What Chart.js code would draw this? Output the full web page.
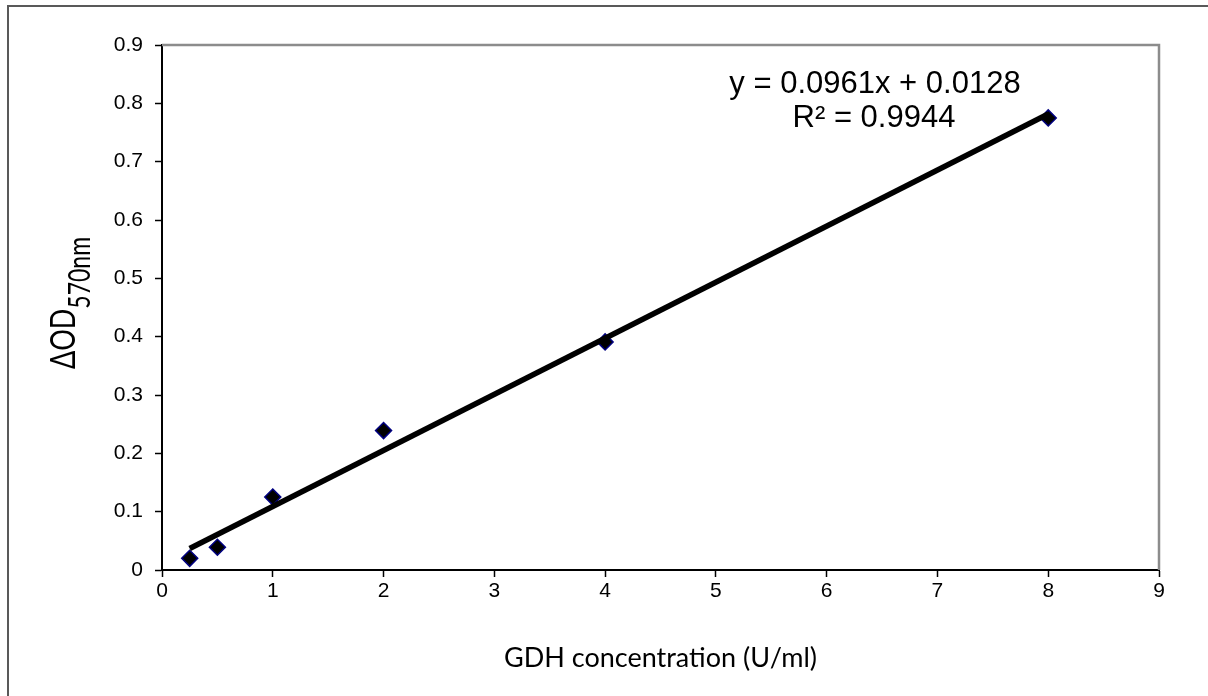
<!DOCTYPE html>
<html>
<head>
<meta charset="utf-8">
<script src="https://cdn.jsdelivr.net/npm/chart.js@4"></script>
<style>
  html, body { margin: 0; padding: 0; background: #fff; }
  #wrap { width: 1208px; height: 696px; position: relative; }
</style>
</head>
<body>
<div id="wrap"><canvas id="chart"></canvas></div>
<script>
// data
const concentration = [0.25, 0.5, 1, 2, 4, 8];
const deltaOD = [0.020, 0.039, 0.125, 0.239, 0.391, 0.775];
const xTicks = [0, 1, 2, 3, 4, 5, 6, 7, 8, 9];
const yTicks = [0, 0.1, 0.2, 0.3, 0.4, 0.5, 0.6, 0.7, 0.8, 0.9];
const slope = 0.0961;
const intercept = 0.0128;
const equationText = 'y = 0.0961x + 0.0128';
const r2Text = 'R\u00b2 = 0.9944';

const trendX = [concentration[0], concentration[concentration.length - 1]];

// frame, top/right plot border, trendline text and y title
const decorPlugin = {
    id: 'decor',
    beforeDraw(chart) {
        const ctx = chart.ctx;
        ctx.save();
        ctx.strokeStyle = '#595959';
        ctx.lineWidth = 2;
        ctx.strokeRect(8, 6, 1400, 900);
        ctx.restore();
    },
    afterDraw(chart) {
        const ctx = chart.ctx;
        const a = chart.chartArea;
        ctx.save();
        ctx.strokeStyle = '#8c8c8c';
        ctx.lineWidth = 2.5;
        ctx.beginPath();
        ctx.moveTo(a.left, a.top);
        ctx.lineTo(a.right, a.top);
        ctx.lineTo(a.right, a.bottom);
        ctx.stroke();

        // equation
        ctx.fillStyle = '#000';
        ctx.font = '31px "Liberation Sans", Arial, sans-serif';
        ctx.textAlign = 'center';
        ctx.textBaseline = 'alphabetic';
        ctx.fillText(equationText, 875, 93);
        ctx.fillText(r2Text, 874, 127);

        // y axis title with subscript
        ctx.translate(75, 303);
        ctx.rotate(-Math.PI / 2);
        ctx.scale(1, 1.3);
        const main = 'ΔOD';
        const sub = '570nm';
        const mainFont = '27px Lato, "Open Sans", sans-serif';
        const subFont = '23px Lato, "Open Sans", sans-serif';
        ctx.font = mainFont;
        const w1 = ctx.measureText(main).width;
        ctx.font = subFont;
        const w2 = ctx.measureText(sub).width;
        const start = -(w1 + w2) / 2;
        ctx.textAlign = 'left';
        ctx.font = mainFont;
        ctx.fillText(main, start, 0);
        ctx.font = subFont;
        ctx.fillText(sub, start + w1, 11.5);
        ctx.restore();
    }
};

const ctx = document.getElementById('chart').getContext('2d');
new Chart(ctx, {
    data: {
        datasets: [{
            type: 'line',
            data: trendX.map(x => ({ x: x, y: slope * x + intercept })),
            borderColor: '#000',
            borderWidth: 5.5,
            pointRadius: 0,
            order: 0
        }, {
            type: 'scatter',
            data: concentration.map((x, i) => ({ x: x, y: deltaOD[i] })),
            pointStyle: 'rectRot',
            pointRadius: 8,
            backgroundColor: '#000',
            borderColor: '#000080',
            borderWidth: 1.5,
            order: 1
        }]
    },
    options: {
        responsive: true,
        maintainAspectRatio: false,
        animation: false,
        layout: { padding: { left: 0, right: 49, top: 45, bottom: 0 } },
        plugins: {
            legend: { display: false },
            tooltip: { enabled: false }
        },
        scales: {
            x: {
                type: 'linear',
                min: 0,
                max: 9,
                afterBuildTicks: s => { s.ticks = xTicks.map(v => ({ value: v })); },
                afterFit: s => { s.height = 126; },
                border: { color: '#000', width: 2 },
                grid: { drawOnChartArea: false, tickLength: 7, color: '#000', tickWidth: 1.5 },
                ticks: {
                    color: '#000',
                    padding: 2,
                    font: { family: '"Liberation Sans", Arial, sans-serif', size: 21 }
                },
                title: {
                    display: true,
                    text: 'GDH concentration (U/ml)',
                    color: '#000',
                    font: { family: 'Lato, "Open Sans", sans-serif', size: 27 },
                    padding: { top: 17, bottom: 22 }
                }
            },
            y: {
                type: 'linear',
                min: 0,
                max: 0.9,
                afterBuildTicks: s => { s.ticks = yTicks.map(v => ({ value: v })); },
                afterFit: s => { s.width = 162; },
                border: { color: '#000', width: 2 },
                grid: { drawOnChartArea: false, tickLength: 7, color: '#000', tickWidth: 1.5 },
                ticks: {
                    color: '#000',
                    padding: 12,
                    callback: v => String(Math.round(v * 10) / 10),
                    font: { family: '"Liberation Sans", Arial, sans-serif', size: 21 }
                }
            }
        }
    },
    plugins: [decorPlugin]
});
</script>
</body>
</html>
